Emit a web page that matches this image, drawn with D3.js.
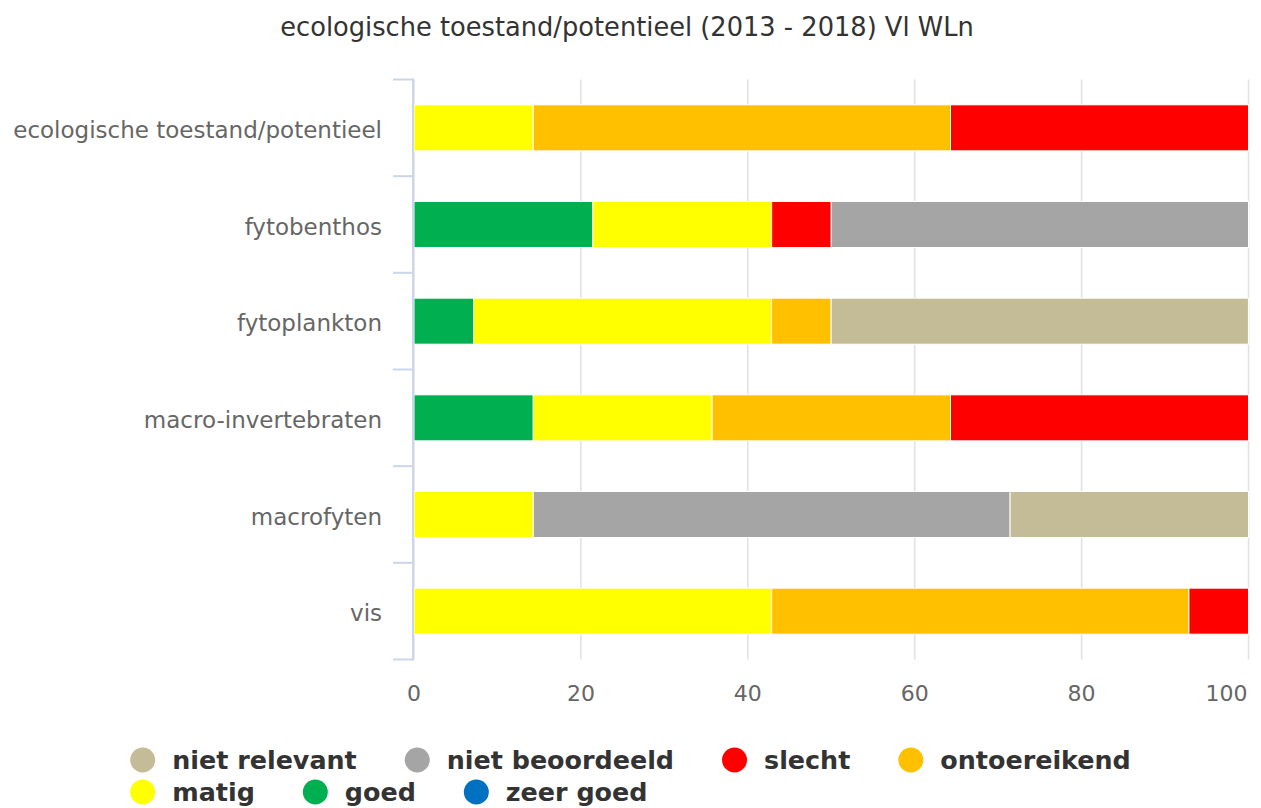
<!DOCTYPE html>
<html>
<head>
<meta charset="utf-8">
<script src="https://cdn.jsdelivr.net/npm/d3@7"></script>
<style>
  html, body { margin: 0; padding: 0; background: #ffffff; }
  svg { display: block; font-family: "DejaVu Sans", sans-serif; }
</style>
</head>
<body>
<svg id="chart" width="1261" height="808"></svg>
<script>
// Categories (quality elements) and share of water bodies per status, in %
const categories = [
  "ecologische toestand/potentieel",
  "fytobenthos",
  "fytoplankton",
  "macro-invertebraten",
  "macrofyten",
  "vis"
];
const zeerGoed       = [0,     0,     0,     0,     0,     0];
const goed           = [0,     21.43, 7.14,  14.29, 0,     0];
const matig          = [14.29, 21.43, 35.71, 21.43, 14.29, 42.86];
const ontoereikend   = [50,    0,     7.14,  28.57, 0,     50];
const slecht         = [35.71, 7.14,  0,     35.71, 0,     7.14];
const nietBeoordeeld = [0,     50,    0,     0,     57.14, 0];
const nietRelevant   = [0,     0,     50,    0,     28.57, 0];

const xTicks = [0, 20, 40, 60, 80, 100];
const title = "ecologische toestand/potentieel (2013 - 2018) Vl WLn";

// Series in stacking order (left to right)
const series = [
  { name: "zeer goed",       values: zeerGoed,       color: "#0070c0" },
  { name: "goed",            values: goed,           color: "#00b050" },
  { name: "matig",           values: matig,          color: "#ffff00" },
  { name: "ontoereikend",    values: ontoereikend,   color: "#ffc000" },
  { name: "slecht",          values: slecht,         color: "#ff0000" },
  { name: "niet beoordeeld", values: nietBeoordeeld, color: "#a5a5a5" },
  { name: "niet relevant",   values: nietRelevant,   color: "#c4bc96" }
];

const svg = d3.select("#chart");
const W = 1261;
const plot = { left: 414, right: 1248.5, top: 79.5, bottom: 659.5 };

const x = d3.scaleLinear().domain([0, 100]).range([plot.left, plot.right]);
const y = d3.scaleBand().domain(categories)
  .range([plot.top, plot.bottom])
  .paddingInner(0.524).paddingOuter(0.262);

// Title
svg.append("text")
  .attr("x", 627).attr("y", 36)
  .attr("text-anchor", "middle")
  .attr("fill", "#333333")
  .style("font-size", "25.7px")
  .text(title);

// Vertical grid lines
svg.append("g")
  .selectAll("line").data(xTicks).join("line")
  .attr("x1", d => x(d)).attr("x2", d => x(d))
  .attr("y1", plot.top).attr("y2", plot.bottom)
  .attr("stroke", "#e2e2e2").attr("stroke-width", 1.6);

// Stacked bars
const table = categories.map((c, i) => {
  const row = { category: c };
  series.forEach(s => { row[s.name] = s.values[i]; });
  return row;
});
const stack = d3.stack().keys(series.map(s => s.name));
const stacked = stack(table);

const gBars = svg.append("g");
stacked.forEach((layer, li) => {
  gBars.append("g")
    .attr("fill", series[li].color)
    .selectAll("rect")
    .data(layer.filter(d => d[1] - d[0] > 0))
    .join("rect")
    .attr("x", d => x(d[0]))
    .attr("y", d => y(d.data.category))
    .attr("width", d => x(d[1]) - x(d[0]))
    .attr("height", y.bandwidth())
    .attr("stroke", "#ffffff")
    .attr("stroke-width", 1);
});

// Category axis (left)
const axisX = 413;
const gY = svg.append("g");
gY.append("line")
  .attr("x1", axisX).attr("x2", axisX)
  .attr("y1", plot.top - 1).attr("y2", plot.bottom + 1)
  .attr("stroke", "#ccd6eb").attr("stroke-width", 2);
const step = y.step();
const boundaries = d3.range(categories.length + 1).map(i => plot.top + i * step);
gY.selectAll("line.tick").data(boundaries).join("line")
  .attr("class", "tick")
  .attr("x1", 393).attr("x2", axisX)
  .attr("y1", d => d).attr("y2", d => d)
  .attr("stroke", "#ccd6eb").attr("stroke-width", 2);
gY.selectAll("text").data(categories).join("text")
  .attr("x", 382)
  .attr("y", d => y(d) + y.bandwidth() / 2 + 2)
  .attr("dy", "0.35em")
  .attr("text-anchor", "end")
  .attr("fill", "#666666")
  .style("font-size", "23px")
  .text(d => d);

// Value axis labels (bottom); the last one is kept inside the plot edge
svg.append("g")
  .selectAll("text").data(xTicks).join("text")
  .attr("x", (d, i) => i === xTicks.length - 1 ? plot.right - 1 : x(d))
  .attr("y", 701)
  .attr("text-anchor", (d, i) => i === xTicks.length - 1 ? "end" : "middle")
  .attr("fill", "#666666")
  .style("font-size", "22px")
  .text(d => d);

// Legend: reversed series order, flowing into rows
const legendItems = series.slice().reverse();
const gLegend = svg.append("g");
const r = 12.5, textGap = 17, itemGap = 48, rowH = 32, maxRowW = 1080;
const items = legendItems.map(s => {
  const g = gLegend.append("g");
  g.append("circle").attr("cx", r).attr("cy", 0).attr("r", r).attr("fill", s.color);
  const t = g.append("text")
    .attr("x", 2 * r + textGap).attr("y", 0).attr("dy", "0.35em")
    .attr("fill", "#333333")
    .style("font-size", "25.4px").style("font-weight", "bold")
    .text(s.name);
  const w = 2 * r + textGap + t.node().getComputedTextLength();
  return { g, w };
});
const rows = [[]];
let cur = 0;
items.forEach(it => {
  const add = (rows[rows.length - 1].length ? itemGap : 0) + it.w;
  if (rows[rows.length - 1].length && cur + add > maxRowW) {
    rows.push([it]); cur = it.w;
  } else {
    rows[rows.length - 1].push(it); cur += add;
  }
});
const rowWidths = rows.map(rw => d3.sum(rw, d => d.w) + itemGap * (rw.length - 1));
const boxW = d3.max(rowWidths);
const startX = (W - boxW) / 2;
rows.forEach((rw, ri) => {
  let cx = startX;
  rw.forEach(it => {
    it.g.attr("transform", `translate(${cx},${760 + ri * rowH})`);
    cx += it.w + itemGap;
  });
});
</script>
</body>
</html>
